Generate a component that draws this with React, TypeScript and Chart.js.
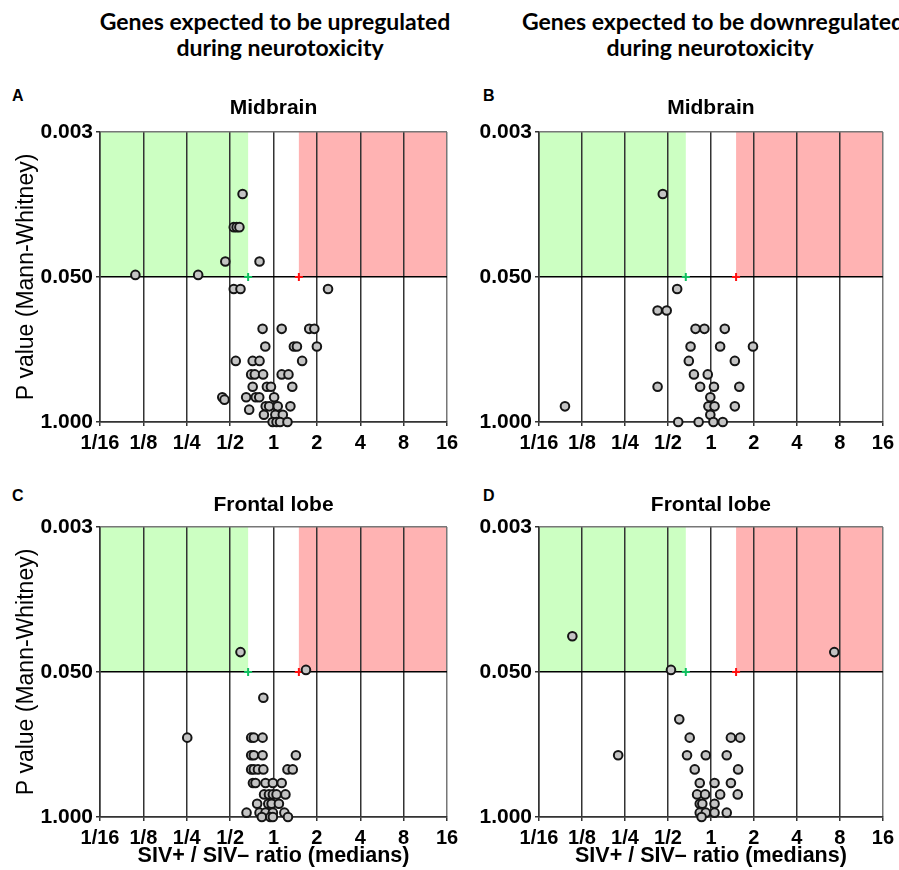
import React, { useEffect, useRef } from "react";
import { Chart, registerables } from "chart.js";

Chart.register(...registerables);

// ---------- axis definitions ----------
const X_TICK_LABELS = ["1/16", "1/8", "1/4", "1/2", "1", "2", "4", "8", "16"];
const RATIO_MIN = 1 / 16;
const RATIO_MAX = 16;
const Y_TICK_LABELS = ["1.000", "0.050", "0.003"];
const P_BOTTOM = 1.0;
const P_THRESHOLD = 0.05;
const P_TOP = 0.003;
const DOWN_CUTOFF = 2 / 3;
const UP_CUTOFF = 1.5;

// ---------- data (ratio of medians, Mann-Whitney P) ----------
// A: Midbrain, upregulated genes
const A_RATIO = [
  0.11, 0.3, 0.61, 0.53, 0.555, 0.58, 0.463, 0.8, 0.53, 0.59, 2.39,
  0.84, 1.14, 1.77, 1.92,
  0.877, 1.385, 1.454, 2.0,
  0.547, 0.717, 0.8, 1.58,
  0.7, 0.742, 0.847, 1.14, 1.27,
  0.717, 0.9, 0.96, 1.35,
  0.646, 0.753, 0.796, 1.01, 0.441, 0.457,
  0.883, 0.933, 1.07, 1.31,
  0.678,
  0.858, 1.03, 1.16,
  0.986, 1.05, 1.11, 1.25,
];
const A_P = [
  0.048, 0.048, 0.01, 0.019, 0.019, 0.019, 0.037, 0.037, 0.064, 0.064, 0.064,
  0.146, 0.146, 0.146, 0.146,
  0.21, 0.21, 0.21, 0.21,
  0.283, 0.283, 0.283, 0.283,
  0.374, 0.374, 0.374, 0.374, 0.374,
  0.483, 0.483, 0.483, 0.483,
  0.6, 0.6, 0.6, 0.6, 0.6, 0.63,
  0.724, 0.724, 0.724, 0.724,
  0.775,
  0.86, 0.86, 0.86,
  1.0, 1.0, 1.0, 1.0,
];

// B: Midbrain, downregulated genes
const B_RATIO = [
  0.46, 0.58, 0.423, 0.49,
  0.78, 0.9, 1.25,
  0.72, 1.16, 1.97,
  0.7, 1.47,
  0.76, 0.95,
  0.423, 0.84, 1.05, 1.58,
  0.99,
  0.095, 0.96, 1.06, 1.47,
  0.99,
  0.59, 0.82, 1.04, 1.21,
];
const B_P = [
  0.01, 0.064, 0.1, 0.1,
  0.146, 0.146, 0.146,
  0.21, 0.21, 0.21,
  0.283, 0.283,
  0.374, 0.374,
  0.483, 0.483, 0.483, 0.483,
  0.6,
  0.724, 0.724, 0.724, 0.724,
  0.86,
  1.0, 1.0, 1.0, 1.0,
];

// C: Frontal lobe, upregulated genes
const C_RATIO = [
  0.59, 1.68, 0.85,
  0.252, 0.7, 0.73, 0.84,
  0.7, 0.73, 0.84, 1.43,
  0.7, 0.73, 0.78, 0.85, 1.25, 1.36,
  0.72, 0.75, 0.88, 0.99, 1.14,
  0.86, 0.93, 0.99, 1.05, 1.21,
  0.77, 0.92, 0.97, 1.09,
  0.65, 0.8, 0.88, 0.99, 1.19,
  0.83, 0.95, 0.99, 1.26,
];
const C_P = [
  0.034, 0.048, 0.085,
  0.194, 0.194, 0.194, 0.194,
  0.279, 0.279, 0.279, 0.279,
  0.374, 0.374, 0.374, 0.374, 0.374, 0.374,
  0.496, 0.496, 0.496, 0.496, 0.496,
  0.627, 0.627, 0.627, 0.627, 0.627,
  0.76, 0.76, 0.76, 0.76,
  0.914, 0.914, 0.914, 0.914, 0.914,
  1.0, 1.0, 1.0, 1.0,
];

// D: Frontal lobe, downregulated genes
const D_RATIO = [
  0.107, 7.31, 0.525, 0.6,
  0.71, 1.38, 1.6,
  0.224, 0.68, 0.92, 1.29,
  0.77, 1.55,
  0.835, 1.06, 1.38,
  0.8, 0.91, 1.16, 1.54,
  0.835, 0.87, 1.06,
  0.835, 0.92, 1.06, 1.29,
  0.86,
];
const D_P = [
  0.025, 0.034, 0.048, 0.133,
  0.194, 0.194, 0.194,
  0.279, 0.279, 0.279, 0.279,
  0.374, 0.374,
  0.496, 0.496, 0.496,
  0.627, 0.627, 0.627, 0.627,
  0.76, 0.76, 0.76,
  0.914, 0.914, 0.914, 0.914,
  1.0,
];

// ---------- styling ----------
const FONT = "Arial, 'Liberation Sans', Helvetica, sans-serif";
const HEADER_FONT = "Lato, 'Open Sans', sans-serif";
const GREEN = "#ccffc2";
const RED = "#ffb3b3";

// y position: 1.000 -> 0, 0.050 -> 1, 0.003 -> 2 (log within each half)
function pPos(p: number): number {
  if (p >= P_THRESHOLD) return Math.log(p / P_BOTTOM) / Math.log(P_THRESHOLD / P_BOTTOM);
  return 1 + Math.log(p / P_THRESHOLD) / Math.log(P_TOP / P_THRESHOLD);
}

const zonesPlugin = {
  id: "zones",
  beforeDraw(chart: any) {
    const { ctx, scales } = chart;
    const x = scales.x;
    const y = scales.y;
    const yTop = y.getPixelForValue(pPos(P_TOP));
    const yThr = y.getPixelForValue(pPos(P_THRESHOLD));
    const x0 = x.getPixelForValue(Math.log2(RATIO_MIN));
    const xg = x.getPixelForValue(Math.log2(DOWN_CUTOFF));
    const xr = x.getPixelForValue(Math.log2(UP_CUTOFF));
    const x1 = x.getPixelForValue(Math.log2(RATIO_MAX));
    ctx.save();
    ctx.fillStyle = GREEN;
    ctx.fillRect(x0, yTop, xg - x0, yThr - yTop);
    ctx.fillStyle = RED;
    ctx.fillRect(xr, yTop, x1 - xr, yThr - yTop);
    ctx.restore();
  },
};

type PanelDef = {
  ratios: number[];
  ps: number[];
  title: string;
  yTitle: boolean;
  xTitle: boolean;
  left: number;
  top: number;
  width: number;
  height: number;
  padRight: number;
  xHeight: number;
  titlePad: { top: number; bottom: number };
};

const PANELS: PanelDef[] = [
  { ratios: A_RATIO, ps: A_P, title: "Midbrain", yTitle: true, xTitle: false, left: 0, top: 85, width: 470, height: 375, padRight: 23, xHeight: 38, titlePad: { top: 10.4, bottom: 11.4 } },
  { ratios: B_RATIO, ps: B_P, title: "Midbrain", yTitle: false, xTitle: false, left: 439, top: 85, width: 460, height: 375, padRight: 14, xHeight: 38, titlePad: { top: 10.4, bottom: 11.4 } },
  { ratios: C_RATIO, ps: C_P, title: "Frontal lobe", yTitle: true, xTitle: true, left: 0, top: 480, width: 470, height: 390, padRight: 23, xHeight: 53, titlePad: { top: 12.4, bottom: 9.4 } },
  { ratios: D_RATIO, ps: D_P, title: "Frontal lobe", yTitle: false, xTitle: true, left: 439, top: 480, width: 460, height: 390, padRight: 14, xHeight: 53, titlePad: { top: 12.4, bottom: 9.4 } },
];

function Panel({ def }: { def: PanelDef }) {
  const ref = useRef<HTMLCanvasElement | null>(null);
  useEffect(() => {
    if (!ref.current) return;
    const points = def.ratios.map((r, i) => ({ x: Math.log2(r), y: pPos(def.ps[i]) }));
    const chart = new Chart(ref.current, {
      type: "scatter",
      data: {
        datasets: [
          {
            data: points,
            pointRadius: 4.3,
            pointBorderWidth: 2,
            pointBackgroundColor: "#c4c4c4",
            pointBorderColor: "#151515",
            clip: false as any,
          },
          {
            data: [
              { x: Math.log2(DOWN_CUTOFF), y: pPos(P_THRESHOLD) },
              { x: Math.log2(UP_CUTOFF), y: pPos(P_THRESHOLD) },
            ],
            pointStyle: "cross",
            pointRadius: 4,
            pointBorderWidth: 2,
            pointBorderColor: ["#10c060", "#ff1010"],
            clip: false as any,
          },
        ],
      },
      options: {
        responsive: false,
        maintainAspectRatio: false,
        animation: false,
        events: [],
        font: { family: FONT },
        layout: { padding: { left: 0, right: def.padRight, top: 0, bottom: 0 } },
        plugins: {
          legend: { display: false },
          tooltip: { enabled: false },
          title: {
            display: true,
            text: def.title,
            fullSize: false,
            color: "#000",
            font: { family: FONT, size: 21, weight: "bold" },
            padding: def.titlePad,
          },
        },
        scales: {
          x: {
            type: "linear",
            min: Math.log2(RATIO_MIN),
            max: Math.log2(RATIO_MAX),
            afterFit: (s: any) => {
              s.height = def.xHeight;
            },
            ticks: {
              stepSize: 1,
              autoSkip: false,
              maxRotation: 0,
              padding: 5,
              color: "#000",
              font: { family: FONT, size: 20, weight: "bold" },
              callback: (_v: any, i: number) => X_TICK_LABELS[i],
            },
            grid: {
              color: (c: any) => (c.tick && c.tick.value === 4 ? "#777" : "#333"),
              lineWidth: 1.5,
              drawTicks: true,
              tickLength: 4,
              tickColor: "#333",
            },
            border: { display: true, color: "#333", width: 1.5 },
            title: {
              display: def.xTitle,
              text: "SIV+ / SIV– ratio (medians)",
              color: "#000",
              font: { family: FONT, size: 21.5, weight: "bold" },
              padding: { top: 0, bottom: 1.2 },
            },
          },
          y: {
            type: "linear",
            min: 0,
            max: 2,
            afterFit: (s: any) => {
              s.width = 100;
            },
            ticks: {
              stepSize: 1,
              padding: 3,
              color: "#000",
              font: { family: FONT, size: 21, weight: "bold" },
              callback: (v: any) => Y_TICK_LABELS[Math.round(Number(v))],
            },
            grid: {
              color: (c: any) => {
                const v = c.tick ? c.tick.value : -1;
                if (v === 1) return "#000";
                if (v === 2) return "#777";
                return "#333";
              },
              lineWidth: 1.5,
              drawTicks: true,
              tickLength: 4,
              tickColor: "#333",
            },
            border: { display: true, color: "#333", width: 1.5 },
            title: {
              display: def.yTitle,
              text: "P value (Mann-Whitney)",
              color: "#000",
              font: { family: FONT, size: 23, weight: "normal" },
              padding: { top: 13.2, bottom: 0 },
            },
          },
        },
      },
      plugins: [zonesPlugin],
    } as any);
    return () => chart.destroy();
  }, [def]);
  return (
    <canvas
      ref={ref}
      width={def.width}
      height={def.height}
      style={{ position: "absolute", left: def.left, top: def.top, width: def.width, height: def.height }}
    />
  );
}

const LETTERS = [
  { t: "A", left: 12, top: 88 },
  { t: "B", left: 483, top: 88 },
  { t: "C", left: 12, top: 488 },
  { t: "D", left: 483, top: 488 },
];

const HEADER_LINES = [
  { t: "Genes expected to be upregulated", cx: 275, top: 9 },
  { t: "during neurotoxicity", cx: 280, top: 34.5 },
  { t: "Genes expected to be downregulated", cx: 713, top: 9 },
  { t: "during neurotoxicity", cx: 710, top: 34.5 },
];

export default function App() {
  return (
    <div
      style={{
        position: "absolute",
        left: 0,
        top: 0,
        width: 899,
        height: 870,
        overflow: "hidden",
        background: "#fff",
      }}
    >
      {HEADER_LINES.map((h, i) => (
        <div
          key={"h" + i}
          style={{
            position: "absolute",
            left: h.cx,
            top: h.top,
            transform: "translateX(-50%)",
            whiteSpace: "nowrap",
            fontFamily: HEADER_FONT,
            fontWeight: 700,
            fontSize: 23,
            lineHeight: "25.5px",
            color: "#000",
          }}
        >
          {h.t}
        </div>
      ))}
      {LETTERS.map((l) => (
        <div
          key={l.t}
          style={{
            position: "absolute",
            left: l.left,
            top: l.top,
            fontFamily: FONT,
            fontWeight: 700,
            fontSize: 16,
            lineHeight: "16px",
            color: "#000",
          }}
        >
          {l.t}
        </div>
      ))}
      {PANELS.map((p, i) => (
        <Panel key={i} def={p} />
      ))}
    </div>
  );
}
